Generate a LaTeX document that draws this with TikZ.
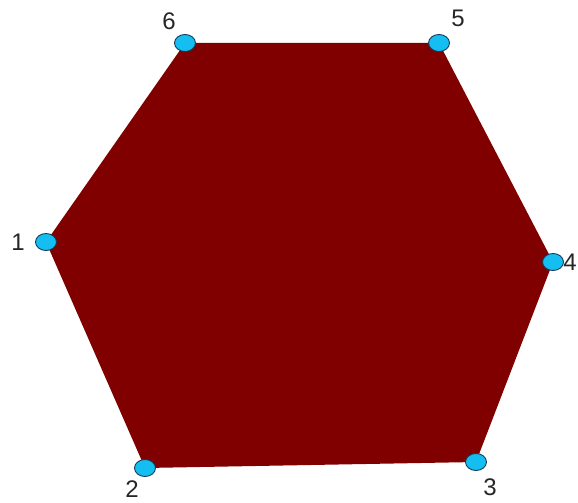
\documentclass[tikz,border=0pt]{standalone}
\usepackage{fontspec}
\setmainfont{Liberation Sans}
\usepackage{xcolor}
\usepackage{tikz}
\usetikzlibrary{calc, shapes.geometric, positioning}

\definecolor{hexred}{RGB}{128,0,0}
\definecolor{vcyan}{RGB}{20,190,240}
\definecolor{vedge}{RGB}{20,60,90}

\begin{document}
\begin{tikzpicture}[x=1pt, y=-1pt,
    dinh/.style={ellipse, draw=vedge, line width=0.9pt, fill=vcyan,
        minimum width=21pt, minimum height=17pt, inner sep=0pt},
    nhan/.style={font=\fontsize{24}{24}\selectfont, text=black!85, inner sep=0pt}]
    \useasboundingbox (0,0) rectangle (578,503);
    
    % Các đỉnh của lục giác
    \coordinate (p1) at (46,242);
    \coordinate (p2) at (145,468);
    \coordinate (p3) at (476,462);
    \coordinate (p4) at (553,262);
    \coordinate (p5) at (439,43);
    \coordinate (p6) at (185,43);
    
    % Tô lục giác
    \fill[hexred] (p1) -- (p2) -- (p3) -- (p4) -- (p5) -- (p6) -- cycle;
    
    % Đánh dấu các đỉnh
    \node[dinh] (d1) at (p1) {};
    \node[dinh] (d2) at (p2) {};
    \node[dinh] (d3) at (p3) {};
    \node[dinh] (d4) at (p4) {};
    \node[dinh] (d5) at (p5) {};
    \node[dinh] (d6) at (p6) {};
    
    % Số thứ tự
    \node[nhan] (n1) at (18,242) {1};
    \node[nhan] (n2) at (132,489) {2};
    \node[nhan] (n3) at (490,487) {3};
    \node[nhan] (n4) at (570,262) {4};
    \node[nhan] (n5) at (458,18) {5};
    \node[nhan] (n6) at (169,21) {6};
\end{tikzpicture}
\end{document}
